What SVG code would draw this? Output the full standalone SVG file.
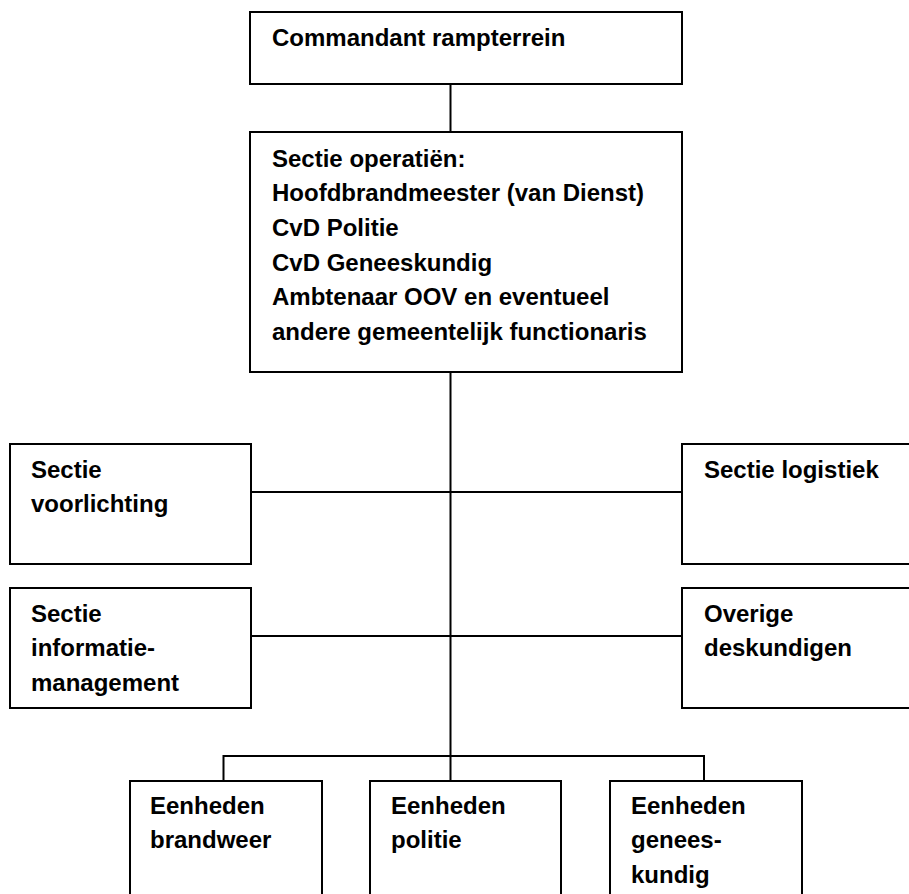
<svg xmlns="http://www.w3.org/2000/svg" width="909" height="894" viewBox="0 0 909 894">
<style>
.box{fill:#fff;stroke:#000;stroke-width:2}
.ln{stroke:#000;stroke-width:2;fill:none}
text{font-family:"Liberation Sans",Arial,sans-serif;font-weight:bold;font-size:24px;fill:#000}
</style>
<rect width="909" height="894" fill="#fff"/>
<g id="connectors">
<line class="ln" x1="450.5" y1="84" x2="450.5" y2="132"/>
<line class="ln" x1="450.5" y1="372" x2="450.5" y2="781"/>
<line class="ln" x1="251" y1="492" x2="682" y2="492"/>
<line class="ln" x1="251" y1="636" x2="682" y2="636"/>
<polyline class="ln" points="223.5,781 223.5,756 704,756 704,781"/>
</g>
<g id="commandant">
<rect class="box" x="250" y="12" width="432" height="72"/>
<text x="272" y="46">Commandant rampterrein</text>
</g>
<g id="sectie-operaties">
<rect class="box" x="250" y="132" width="432" height="240"/>
<text x="272" y="166.5">Sectie operatiën:</text>
<text x="272" y="201.2">Hoofdbrandmeester (van Dienst)</text>
<text x="272" y="235.9">CvD Politie</text>
<text x="272" y="270.6">CvD Geneeskundig</text>
<text x="272" y="305.3">Ambtenaar OOV en eventueel</text>
<text x="272" y="340">andere gemeentelijk functionaris</text>
</g>
<g id="sectie-voorlichting">
<rect class="box" x="10" y="444" width="241" height="120"/>
<text x="31" y="477.5">Sectie</text>
<text x="31" y="512.2">voorlichting</text>
</g>
<g id="sectie-informatiemanagement">
<rect class="box" x="10" y="588" width="241" height="120"/>
<text x="31" y="621.5">Sectie</text>
<text x="31" y="656.2">informatie-</text>
<text x="31" y="690.9">management</text>
</g>
<g id="sectie-logistiek">
<rect class="box" x="682" y="444" width="240" height="120"/>
<text x="704" y="477.5">Sectie logistiek</text>
</g>
<g id="overige-deskundigen">
<rect class="box" x="682" y="588" width="240" height="120"/>
<text x="704" y="621.5">Overige</text>
<text x="704" y="656.2">deskundigen</text>
</g>
<g id="eenheden-brandweer">
<rect class="box" x="130" y="781" width="192" height="130"/>
<text x="150" y="813.5">Eenheden</text>
<text x="150" y="848.2">brandweer</text>
</g>
<g id="eenheden-politie">
<rect class="box" x="370" y="781" width="191" height="130"/>
<text x="391" y="813.5">Eenheden</text>
<text x="391" y="848.2">politie</text>
</g>
<g id="eenheden-geneeskundig">
<rect class="box" x="610" y="781" width="192" height="130"/>
<text x="631" y="813.5">Eenheden</text>
<text x="631" y="848.2">genees-</text>
<text x="631" y="882.9">kundig</text>
</g>
</svg>
